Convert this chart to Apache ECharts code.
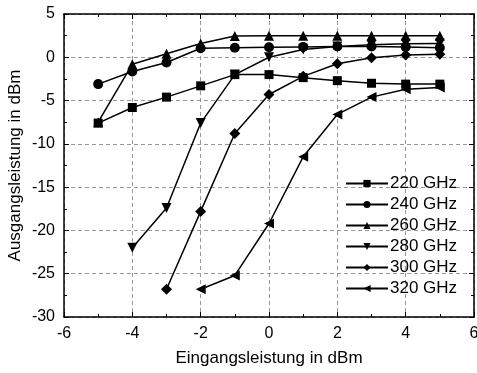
<!DOCTYPE html>
<html>
<head>
<meta charset="utf-8">
<script src="https://cdn.jsdelivr.net/npm/echarts@6/dist/echarts.min.js"></script>
<style>
html,body{margin:0;padding:0;background:#fff;}
#chart{width:477px;height:373px;}
</style>
</head>
<body>
<div id="chart"></div>
<script>
// Input power sweep (dBm)
const inputPower = [-5, -4, -3, -2, -1, 0, 1, 2, 3, 4, 5];

// Output power per frequency (dBm); null where not measured
const p220 = [-7.6, -5.8, -4.6, -3.3, -2.0, -2.0, -2.35, -2.7, -3.0, -3.1, -3.1];
const p240 = [-3.1, -1.65, -0.6, 1.05, 1.1, 1.15, 1.2, 1.25, 1.25, 1.2, 1.1];
const p260 = [-7.5, -0.8, 0.4, 1.6, 2.45, 2.5, 2.5, 2.5, 2.5, 2.5, 2.5];
const p280 = [null, -22.0, -17.4, -7.6, -2.0, 0.0, 0.9, 1.25, 1.45, 1.55, 1.6];
const p300 = [null, null, -26.8, -17.8, -8.8, -4.3, -2.2, -0.75, -0.05, 0.25, 0.35];
const p320 = [null, null, null, -26.8, -25.2, -19.2, -11.5, -6.6, -4.6, -3.7, -3.5];

const seriesNames = ['220 GHz', '240 GHz', '260 GHz', '280 GHz', '300 GHz', '320 GHz'];
const seriesValues = [p220, p240, p260, p280, p300, p320];
const seriesSymbols = ['rect', 'circle', 'triangle', 'triangle', 'diamond', 'triangle'];
const symbolRotations = [0, 0, 0, 180, 0, 90];
const symbolSizes = [9, 10, 10, 10, 11, 10];

const FONT = 'Liberation Sans, Arial, sans-serif';

const chart = echarts.init(document.getElementById('chart'));

const baseAxis = {
  axisLine: { show: true, onZero: false, lineStyle: { color: '#000', width: 1.5 } },
  axisTick: { show: true, inside: true, length: 5, lineStyle: { color: '#000', width: 1 } },
  minorTick: { show: true, splitNumber: 2, length: 3, lineStyle: { color: '#000', width: 1 } },
  axisLabel: { color: '#000', fontFamily: FONT, fontSize: 16 },
  splitLine: { show: false }
};

const series = seriesNames.map((name, i) => ({
  name: name,
  type: 'line',
  data: inputPower.map((x, k) => [x, seriesValues[i][k]]).filter(d => d[1] !== null),
  symbol: seriesSymbols[i],
  symbolRotate: symbolRotations[i],
  symbolSize: symbolSizes[i],
  showAllSymbol: true,
  lineStyle: { color: '#000', width: 1.5 },
  itemStyle: { color: '#000' },
  emphasis: { disabled: true },
  animation: false,
  z: 3
}));

chart.setOption({
  backgroundColor: '#fff',
  animation: false,
  grid: { left: 64, right: 3, top: 14, bottom: 56, containLabel: false, outerBoundsMode: 'none' },
  legend: {
    orient: 'vertical',
    left: 345,
    top: 175,
    padding: 0,
    itemWidth: 42,
    itemHeight: 9,
    itemGap: 4,
    textStyle: { color: '#000', fontFamily: FONT, fontSize: 17, padding: [0, 0, 0, -3], lineHeight: 17 },
    data: seriesNames
  },
  xAxis: [
    Object.assign({}, baseAxis, {
      type: 'value', min: -6, max: 6, interval: 2, position: 'bottom',
      name: 'Eingangsleistung in dBm', nameLocation: 'middle', nameGap: 33,
      nameMoveOverlap: false,
      nameTextStyle: { color: '#000', fontFamily: FONT, fontSize: 17 },
      axisLabel: Object.assign({}, baseAxis.axisLabel, { margin: 9 }),
      splitLine: { show: true, lineStyle: { color: '#999', type: [4, 3], width: 1 } }
    }),
    Object.assign({}, baseAxis, {
      type: 'value', min: -6, max: 6, interval: 2, position: 'top',
      axisLabel: { show: false }
    })
  ],
  yAxis: [
    Object.assign({}, baseAxis, {
      type: 'value', min: -30, max: 5, interval: 5, position: 'left',
      name: 'Ausgangsleistung in dBm', nameLocation: 'middle', nameGap: 40,
      nameMoveOverlap: false,
      nameTextStyle: { color: '#000', fontFamily: FONT, fontSize: 17 },
      axisLabel: Object.assign({}, baseAxis.axisLabel, { margin: 9 }),
      splitLine: { show: true, lineStyle: { color: '#999', type: [4, 3], width: 1 } }
    }),
    Object.assign({}, baseAxis, {
      type: 'value', min: -30, max: 5, interval: 5, position: 'right',
      axisLabel: { show: false }
    })
  ],
  series: series
});
</script>
</body>
</html>
